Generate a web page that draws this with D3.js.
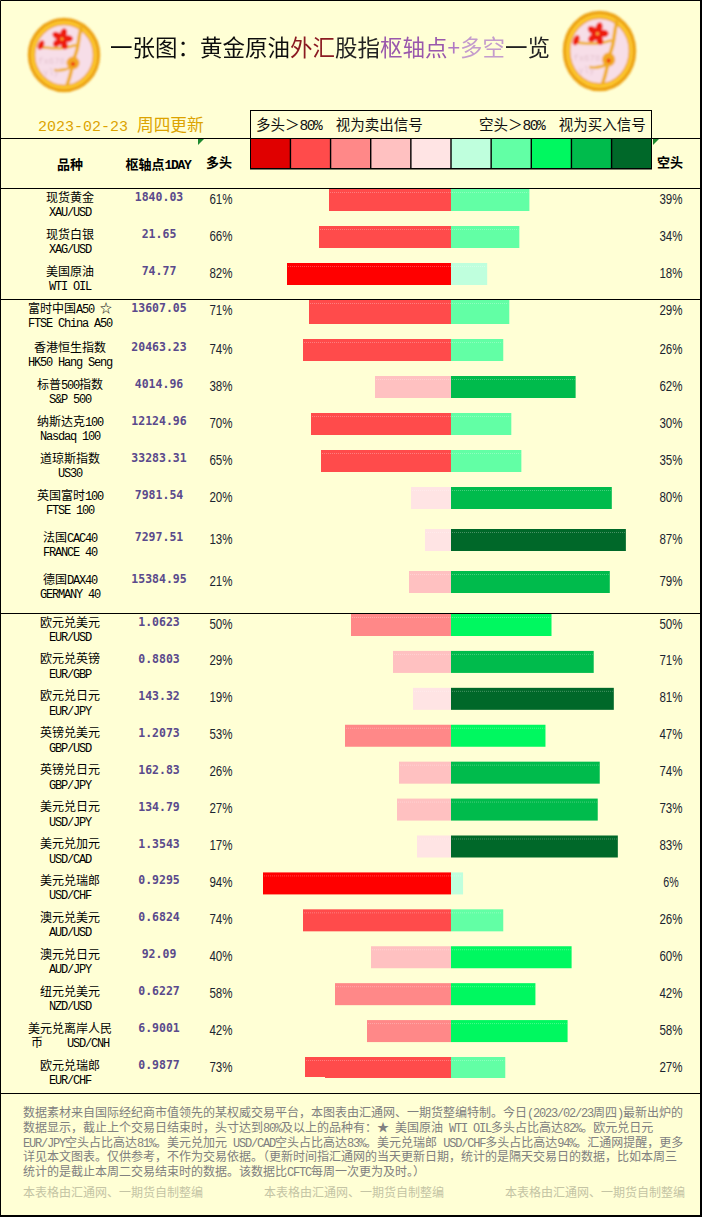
<!DOCTYPE html>
<html><head><meta charset="utf-8">
<script src="https://cdn.jsdelivr.net/npm/d3@7"></script>
<style>html,body{margin:0;padding:0;background:#FFFFD5}svg{display:block}text{white-space:pre}</style>
</head><body><div id="c"></div>
<script>
// ---------- data ----------
const names = ["现货黄金","现货白银","美国原油","富时中国A50 ☆","香港恒生指数","标普500指数","纳斯达克100","道琼斯指数","英国富时100","法国CAC40","德国DAX40","欧元兑美元","欧元兑英镑","欧元兑日元","英镑兑美元","英镑兑日元","美元兑日元","美元兑加元","美元兑瑞郎","澳元兑美元","澳元兑日元","纽元兑美元","美元兑离岸人民","欧元兑瑞郎"];
const codes = ["XAU/USD","XAG/USD","WTI OIL","FTSE China A50","HK50 Hang Seng","S&P 500","Nasdaq 100","US30","FTSE 100","FRANCE 40","GERMANY 40","EUR/USD","EUR/GBP","EUR/JPY","GBP/USD","GBP/JPY","USD/JPY","USD/CAD","USD/CHF","AUD/USD","AUD/JPY","NZD/USD","币    USD/CNH","EUR/CHF"];
const pivots = ["1840.03","21.65","74.77","13607.05","20463.23","4014.96","12124.96","33283.31","7981.54","7297.51","15384.95","1.0623","0.8803","143.32","1.2073","162.83","134.79","1.3543","0.9295","0.6824","92.09","0.6227","6.9001","0.9877"];
const longs  = [61,66,82,71,74,38,70,65,20,13,21,50,29,19,53,26,27,17,94,74,40,58,42,73];
const shorts = [39,34,18,29,26,62,30,35,80,87,79,50,71,81,47,74,73,83,6,26,60,42,58,27];
const legendLeft = "多头＞80%  视为卖出信号";
const legendRight = "空头＞80%  视为买入信号";
const dateText = "2023-02-23";
const dayText = "周四更新";
const redShades = ["#FFE4E4","#FFC1C1","#FF8888","#FF4B4B","#FF0000"];
const greenShades = ["#BFFFDD","#62FFA5","#00F860","#00BB4C","#006829"];
const legendColors = ["#E00000","#FF4B4B","#FF8888","#FFC1C1","#FFE4E4","#BFFFDD","#62FFA5","#00F860","#00BB4C","#006829"];
const footerLines = [
"数据素材来自国际经纪商市值领先的某权威交易平台，本图表由汇通网、一期货整编特制。今日(2023/02/23周四)最新出炉的",
"数据显示，截止上个交易日结束时，头寸达到80%及以上的品种有：★ 美国原油 WTI OIL多头占比高达82%。欧元兑日元",
"EUR/JPY空头占比高达81%。美元兑加元 USD/CAD空头占比高达83%。美元兑瑞郎 USD/CHF多头占比高达94%。汇通网提醒，更多",
"详见本文图表。仅供参考，不作为交易依据。（更新时间指汇通网的当天更新日期，统计的是隔天交易日的数据，比如本周三",
"统计的是截止本周二交易结束时的数据。该数据比CFTC每周一次更为及时。）"];
const watermark = "本表格由汇通网、一期货自制整编";

// ---------- layout ----------
const W = 702, H = 1217;
const CJK = '"Noto Sans CJK SC","Noto Sans",sans-serif';
const MONO = '"Liberation Mono",monospace';
const bg = "#FFFFD5";
const svg = d3.select("#c").append("svg").attr("width",W).attr("height",H).attr("viewBox",`0 0 ${W} ${H}`).style("background",bg);
const defs = svg.append("defs");
defs.append("filter").attr("id","soft").append("feGaussianBlur").attr("stdDeviation",0.8);
defs.append("filter").attr("id","soft2").append("feGaussianBlur").attr("stdDeviation",0.25);

// half-width Latin (tall glyphs, tight advance) next to full-width CJK, as the bitmap Song face of the reference sets them
function mixed(sel, getText, size){
  sel.each(function(d,i){
    const t = d3.select(this), s = getText(d,i);
    (s.match(/[\x20-\x7e]+|[^\x20-\x7e]+/g)||[]).forEach(run=>{
      const ascii = /^[\x20-\x7e]/.test(run);
      const ts = t.append("tspan").attr("font-family",ascii?MONO:CJK).attr("font-size",size).text(run);
      if(ascii) ts.attr("letter-spacing",-0.1*size);
    });
  });
  return sel;
}

const idx = d3.range(names.length);
const y = d3.scaleLinear().domain([0,3,4,8,9,10,11,23]).range([189,300,339,487,529,571,614,1057]);
const xLong = d3.scaleLinear().domain([0,100]).range([451,251]);
const xShort = d3.scaleLinear().domain([0,100]).range([451,652]);
const thresholds = [20.5,40.5,60.5,80.5];
const cLong = d3.scaleThreshold().domain(thresholds).range(redShades);
const cShort = d3.scaleThreshold().domain(thresholds).range(greenShades);
const barH = i => i===3 ? 24 : i===23 ? 21 : 22;

// rules
const rules = [138,188,299,613,1093];
svg.selectAll("line.rule").data(rules).join("line").attr("class","rule")
  .attr("x1",0).attr("x2",W).attr("y1",d=>d+0.5).attr("y2",d=>d+0.5).attr("stroke","#000").attr("stroke-width",1);

// bars
const rows = svg.append("g").selectAll("g").data(idx).join("g");
rows.append("rect").attr("x",i=>xLong(longs[i])).attr("y",i=>y(i)).attr("width",i=>xLong(0)-xLong(longs[i])).attr("height",barH).attr("fill",i=>cLong(longs[i]));
rows.append("rect").attr("x",xShort(0)).attr("y",i=>y(i)).attr("width",i=>xShort(shorts[i])-xShort(0)).attr("height",barH).attr("fill",i=>cShort(shorts[i]));
rows.append("line").attr("x1",i=>xLong(longs[i])+1).attr("x2",i=>xShort(shorts[i])-1).attr("y1",i=>y(i)+3.5).attr("y2",i=>y(i)+3.5)
  .attr("stroke","#fff").attr("stroke-opacity",0.28).attr("stroke-dasharray","1 1");
// the small step at the lower left corner of the last bar
svg.append("rect").attr("x",xLong(longs[23])).attr("y",y(23)+20).attr("width",xLong(63)-xLong(longs[23])).attr("height",1).attr("fill",bg);

// row text
const txt = (sel,cls)=>sel.append("text").attr("class",cls).attr("text-anchor","middle");
mixed(txt(rows,"name").attr("x",70).attr("y",i=>y(i)+12.5).attr("fill","#000"), i=>names[i], 12);
mixed(txt(rows,"code").attr("x",70).attr("y",i=>y(i)+27).attr("fill","#000"), i=>codes[i], 12);
txt(rows,"pivot").attr("x",159).attr("y",i=>y(i)+12).attr("font-family",'"DejaVu Sans Mono",monospace').attr("font-weight","bold").attr("font-size",11.5).attr("fill","#5A4A8C").text(i=>pivots[i]);
const pct = (sel,x,vals)=>txt(sel,"pct").attr("x",x).attr("y",i=>y(i)+14.5).attr("font-family",'"Liberation Sans",sans-serif').attr("font-size",14).attr("fill","#1a2430")
  .attr("textLength",i=>(vals[i]+"%").length*7.7).attr("lengthAdjust","spacingAndGlyphs").text(i=>vals[i]+"%");
pct(rows,221,longs);
pct(rows,671,shorts);

// header
const hdr = [["品种",70,169],["枢轴点1DAY",158,169],["多头",219,167],["空头",670,167]];
mixed(svg.selectAll("text.h").data(hdr).join("text").attr("class","h").attr("text-anchor","middle")
  .attr("x",d=>d[1]).attr("y",d=>d[2]).attr("font-weight","bold"), d=>d[0], 13);

// small green corner flags
svg.selectAll("path.flag").data([198,653]).join("path").attr("class","flag")
  .attr("d",d=>`M${d},139h6l-6,6z`).attr("fill","#1E8A30");

// legend
const lx = d3.scaleBand().domain(d3.range(legendColors.length)).range([251,651]).paddingInner(0.035);
svg.append("rect").attr("x",250.5).attr("y",110.5).attr("width",401).attr("height",28).attr("fill",bg).attr("stroke","#000");
svg.append("rect").attr("x",250).attr("y",138).attr("width",402).attr("height",31.5).attr("fill","#000");
svg.selectAll("rect.sw").data(legendColors).join("rect").attr("class","sw")
  .attr("x",(d,i)=>lx(i)).attr("y",139).attr("width",lx.bandwidth()).attr("height",29).attr("fill",d=>d);
mixed(svg.selectAll("text.lg").data([[legendLeft,256],[legendRight,479]]).join("text").attr("class","lg")
  .attr("x",d=>d[1]).attr("y",130).attr("fill","#111"), d=>d[0], 14.5);

// date
svg.append("text").attr("x",38).attr("y",131).attr("font-family",MONO).attr("font-size",15).attr("fill","#DCA300").text(dateText);
svg.append("text").attr("x",137).attr("y",131).attr("font-family",CJK).attr("font-size",16.7).attr("fill","#DCA300").text(dayText);

// title
const title = svg.append("text").attr("x",110).attr("y",56).attr("font-family",CJK).attr("font-size",22.4)
  .attr("textLength",440).attr("lengthAdjust","spacingAndGlyphs").attr("filter","url(#soft2)");
[["一张图：黄金原油","#111"],["外汇","#8B1A22"],["股指","#222"],["枢轴点","#9A58AC"],["+","#B078C4"],["多空","#C49CCC"],["一览","#222"]]
  .forEach(d=>title.append("tspan").attr("fill",d[1]).text(d[0]));

// brooch logos
function logo(cx,cy,rx,ry,mark){
  const g = svg.append("g").attr("transform",`translate(${cx},${cy}) scale(${rx/37},${ry/38})`).attr("filter","url(#soft)");
  g.append("ellipse").attr("rx",36).attr("ry",37).attr("fill","#F7DEE8");
  g.append("ellipse").attr("rx",32.5).attr("ry",33.5).attr("fill","none").attr("stroke","#EDA416").attr("stroke-width",7.5);
  g.append("ellipse").attr("rx",31.5).attr("ry",32.5).attr("fill","none").attr("stroke","#FFCB30").attr("stroke-width",2.5);
  g.append("path").attr("d","M18,-30 C14,-18 15,-10 12,-2 C8,8 8,18 3,30").attr("fill","none").attr("stroke","#F0AE20").attr("stroke-width",3.5);
  g.append("path").attr("d","M-26,-8 C-14,-8 -6,-4 12,-10 M8,12 C2,15 -4,16 -10,15").attr("fill","none").attr("stroke","#F0B020").attr("stroke-width",2.5);
  d3.range(5).forEach(k=>{
    const a = k*2*Math.PI/5 - 1.3;
    const px = -2+6*Math.cos(a), py = -16+6*Math.sin(a);
    g.append("ellipse").attr("cx",px).attr("cy",py).attr("rx",5).attr("ry",3.4)
      .attr("transform",`rotate(${a*180/Math.PI} ${px} ${py})`).attr("fill","#EE1C10");
  });
  g.append("circle").attr("cx",-2).attr("cy",-16).attr("r",1.3).attr("fill","#F7B020");
  g.append("ellipse").attr("cx",-23).attr("cy",-10).attr("rx",3).attr("ry",5).attr("transform","rotate(25 -23 -10)").attr("fill","#EE2010");
  g.append("circle").attr("cx",9).attr("cy",8).attr("r",6.5).attr("fill","#F2A820");
  g.append("circle").attr("cx",9).attr("cy",9).attr("r",2).attr("fill","#EE3010");
  g.append("text").attr("x",-26).attr("y",9).attr("font-family",MONO).attr("font-size",9).attr("fill","#E6C6D2").text(mark[0]);
  g.append("text").attr("x",-21).attr("y",20).attr("font-family",MONO).attr("font-size",9).attr("fill","#E6C6D2").text(mark[1]);
}
logo(64,55,37,38,["fx678","yly"]);
logo(599.5,51,37.5,41,["fx678","yly"]);

// footer
const fl = d3.scaleLinear().domain([0,4]).range([1117,1176]);
mixed(svg.selectAll("text.f").data(footerLines).join("text").attr("class","f")
  .attr("x",23).attr("y",(d,i)=>fl(i)).attr("fill","#808080"), d=>d, 12);
svg.selectAll("text.w").data([23,264,505]).join("text").attr("class","w")
  .attr("x",d=>d).attr("y",1197).attr("font-size",12).attr("font-family",CJK).attr("fill","#C4C4A4")
  .attr("textLength",180).attr("lengthAdjust","spacingAndGlyphs").text(watermark);

// frame
svg.append("path").attr("d",`M0.5,0.5H${W-1}V${H-1}H0.5Z`).attr("fill","none").attr("stroke","#000").attr("stroke-width",1);
svg.append("rect").attr("x",W-2).attr("y",0).attr("width",2).attr("height",H).attr("fill","#000");
svg.append("rect").attr("x",0).attr("y",H-2).attr("width",W).attr("height",2).attr("fill","#000");
</script></body></html>
